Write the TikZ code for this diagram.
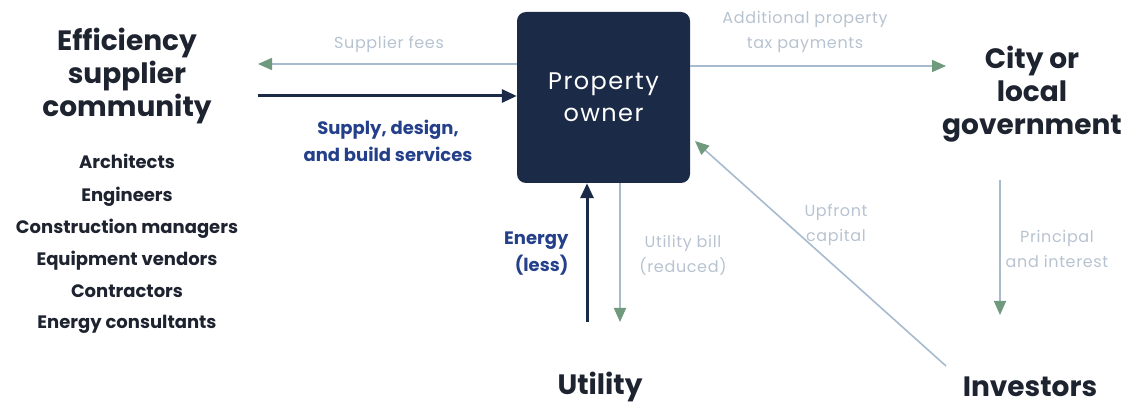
\documentclass[tikz,border=0pt]{standalone}
\usepackage{fontspec}
\setmainfont{Poppins}
\usetikzlibrary{arrows.meta}
\definecolor{navy}{HTML}{1B2A47}
\definecolor{ink}{HTML}{1E2330}
\definecolor{royal}{HTML}{24408A}
\definecolor{paleline}{HTML}{A7BBCF}
\definecolor{paletext}{HTML}{B7C3D0}
\definecolor{tipgreen}{HTML}{6F9A7E}
\tikzset{
  head/.style={font=\bfseries\fontsize{28}{33}\selectfont, text=ink, align=center},
  member/.style={font=\bfseries\fontsize{18}{22}\selectfont, text=ink, text height=13pt, text depth=4pt},
  flowlabel/.style={font=\fontsize{16}{25}\selectfont\addfontfeatures{LetterSpace=4}, text=paletext, align=center},
  darklabel/.style={font=\bfseries\fontsize{18}{27}\selectfont, text=royal, align=center},
  thinflow/.style={draw=paleline, line width=1.6pt, -{Triangle[length=14pt, width=12pt, color=tipgreen]}},
  boldflow/.style={draw=navy, line width=3pt, -{Triangle[length=15pt, width=13pt, color=navy]}},
  ownerbox/.style={fill=navy, rounded corners=9pt, minimum width=173pt, minimum height=171pt,
    text=white, align=center, font=\fontsize{24}{32}\selectfont\addfontfeatures{LetterSpace=6}},
}
\begin{document}
\begin{tikzpicture}[x=1pt, y=-1pt]
  \useasboundingbox (0,0) rectangle (1136,406);

  % central party
  \node[ownerbox] (owner) at (603.5,97.5) {Property\\owner};

  % parties around it
  \node[head] (supplier) at (127,76) {Efficiency\\supplier\\community};
  \node[head] (city) at (1032,94) {City or\\local\\government};
  \node[head] (utility) at (600,387) {Utility};
  \node[head] (investors) at (1030,387) {Investors};

  % supplier members
  \node[member] (m1) at (127,164) {Architects};
  \node[member] (m2) at (127,197) {Engineers};
  \node[member] (m3) at (127,229) {Construction managers};
  \node[member] (m4) at (127,261) {Equipment vendors};
  \node[member] (m5) at (127,293) {Contractors};
  \node[member] (m6) at (127,324) {Energy consultants};

  % end points of the flows
  \coordinate (feesEnd) at (258,64);
  \coordinate (supplyStart) at (258,96);
  \coordinate (taxEnd) at (946,66);
  \coordinate (piStart) at (1000,180);
  \coordinate (piEnd) at (1000,315);
  \coordinate (energyStart) at (587,322);
  \coordinate (billEnd) at (620,322);
  \coordinate (capStart) at (946,366);

  % flows
  \draw[thinflow] (owner.west |- feesEnd) -- (feesEnd);
  \draw[boldflow] (supplyStart) -- (owner.west |- supplyStart);
  \draw[thinflow] (owner.east |- taxEnd) -- (taxEnd);
  \draw[thinflow] (piStart) -- (piEnd);
  \draw[boldflow] (energyStart) -- (owner.south -| energyStart);
  \draw[thinflow] (owner.south -| billEnd) -- (billEnd);
  \draw[thinflow] (capStart) -- (695,141);

  % flow labels
  \node[flowlabel] (feesLbl) at (389,44) {Supplier fees};
  \node[darklabel] (supplyLbl) at (388,141) {Supply, design,\\and build services};
  \node[flowlabel] (taxLbl) at (805,32) {Additional property\\tax payments};
  \node[flowlabel] (piLbl) at (1057,249) {Principal\\and interest};
  \node[darklabel, align=right, anchor=east] (energyLbl) at (572,254) {Energy\\(less)};
  \node[flowlabel] (billLbl) at (683,255) {Utility bill\\(reduced)};
  \node[flowlabel] (capLbl) at (836,225) {Upfront\\capital};
\end{tikzpicture}
\end{document}
